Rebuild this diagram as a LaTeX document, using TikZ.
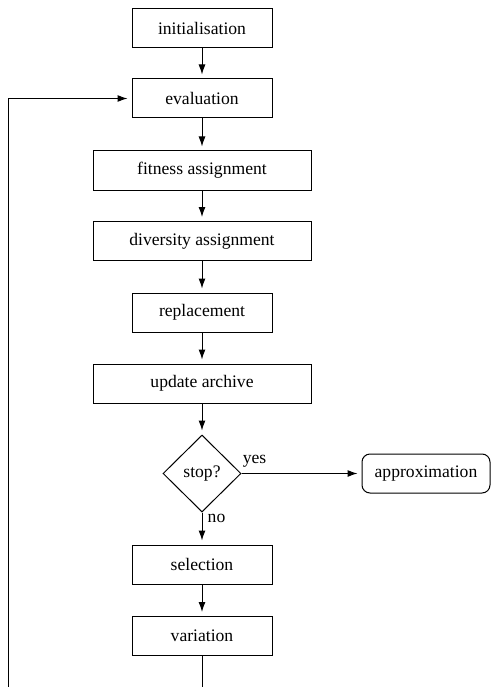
\documentclass[tikz,border=0pt]{standalone}
\usepackage{fontspec}
\setmainfont{Liberation Serif}
\usetikzlibrary{shapes.geometric,arrows.meta}
\begin{document}
\begin{tikzpicture}[x=1pt,y=-1pt,
  font=\fontsize{17.6}{21}\selectfont,
  stepbox/.style={draw,line width=1pt,minimum height=39pt,inner sep=0pt,minimum width=140pt},
  widebox/.style={stepbox,minimum width=218pt},
  decision/.style={draw,diamond,line width=1pt,minimum width=78pt,minimum height=77pt,inner sep=0pt},
  resultbox/.style={draw,line width=1pt,rounded corners=8pt,minimum width=128pt,minimum height=39pt,inner sep=0pt},
  flow/.style={line width=1pt,-{Latex[length=10pt,width=7pt]},shorten >=4pt},
  plain/.style={line width=1pt}]
\useasboundingbox (0,0) rectangle (491,687);
\node[stepbox] (init) at (202,28.5) {initialisation};
\node[stepbox] (eval) at (202,98.5) {evaluation};
\node[widebox] (fit) at (202,170.5) {fitness assignment};
\node[widebox] (div) at (202,241) {diversity assignment};
\node[stepbox] (repl) at (202,312.5) {replacement};
\node[widebox] (upd) at (202,383.5) {update archive};
\node[decision] (stop) at (202,473.5) {stop?};
\node[resultbox] (appr) at (426,473.5) {approximation};
\node[stepbox] (sel) at (202,564.5) {selection};
\node[stepbox] (var) at (202,636) {variation};
\node (yes) at (254.5,461) {yes};
\node (no) at (216.5,518) {no};
\draw[flow] (init) -- (eval);
\draw[flow] (eval) -- (fit);
\draw[flow] (fit) -- (div);
\draw[flow] (div) -- (repl);
\draw[flow] (repl) -- (upd);
\draw[flow] (upd) -- (stop);
\draw[flow] (stop.east) -- (appr.west);
\draw[flow] (stop.south) -- (sel.north);
\draw[flow] (sel) -- (var);
\coordinate (loopA) at (202,700);
\coordinate (loopB) at (8,700);
\coordinate (loopC) at (8,98.5);
\begin{scope}
\clip (0,0) rectangle (491,687);
\draw[flow] (var.south) -- (loopA) -- (loopB) -- (loopC) -- (eval.west);
\end{scope}
\end{tikzpicture}
\end{document}
